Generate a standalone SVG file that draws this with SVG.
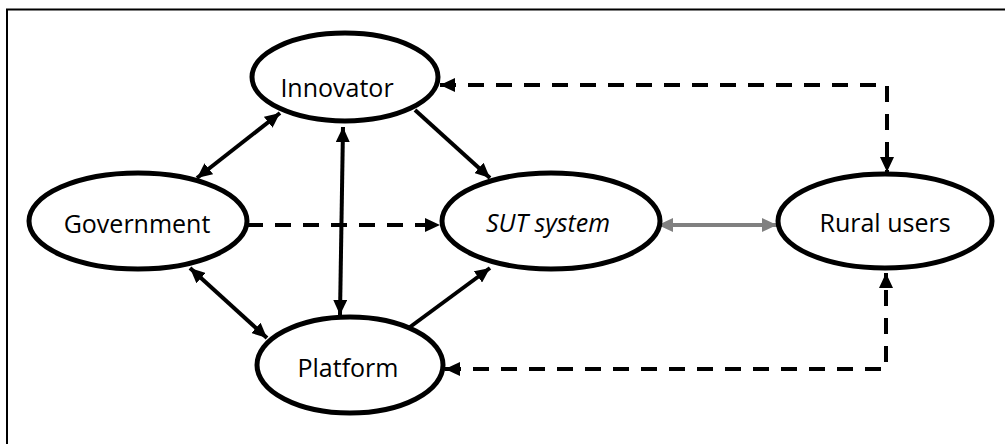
<svg xmlns="http://www.w3.org/2000/svg" width="1005" height="444" viewBox="0 0 1005 444">
<style>
.node{fill:#fff;stroke:#000;stroke-width:5}
.lbl{font-family:"Open Sans","Noto Sans","Liberation Sans",sans-serif;font-size:25px;fill:#000;text-anchor:middle}
.solid{stroke:#000;stroke-width:4;fill:none}
.dash{stroke:#000;stroke-width:4;fill:none;stroke-dasharray:16 12}
.gray{stroke:#808080;stroke-width:4;fill:none}
</style>
<defs>
<marker id="ah" markerUnits="userSpaceOnUse" markerWidth="16" markerHeight="14" refX="15" refY="7" orient="auto-start-reverse">
<path d="M0,0 L15,7 L0,14 z" fill="#000"/>
</marker>
<marker id="ahg" markerUnits="userSpaceOnUse" markerWidth="16" markerHeight="14" refX="15" refY="7" orient="auto-start-reverse">
<path d="M0,0 L15,7 L0,14 z" fill="#808080"/>
</marker>
</defs>
<rect width="1005" height="444" fill="#fff"/>
<g id="frame">
<path d="M7,444 L7,9.5 L1005,9.5" fill="none" stroke="#000" stroke-width="2"/>
</g>
<g id="connectors">
<line class="solid" x1="197" y1="178" x2="280" y2="113" marker-start="url(#ah)" marker-end="url(#ah)"/>
<line class="solid" x1="343" y1="127" x2="340" y2="315" marker-start="url(#ah)" marker-end="url(#ah)"/>
<line class="solid" x1="415" y1="110" x2="490" y2="178" marker-end="url(#ah)"/>
<line class="solid" x1="190" y1="268" x2="267" y2="338" marker-start="url(#ah)" marker-end="url(#ah)"/>
<line class="solid" x1="410" y1="327" x2="490" y2="268" marker-end="url(#ah)"/>
<line class="dash" x1="247" y1="225" x2="440" y2="225" marker-end="url(#ah)"/>
<line class="gray" x1="658" y1="225" x2="777" y2="225" marker-start="url(#ahg)" marker-end="url(#ahg)"/>
<polyline class="dash" points="440,85 887,85 887,172" marker-start="url(#ah)" marker-end="url(#ah)"/>
<polyline class="dash" points="445,369 886,369 886,273" marker-start="url(#ah)" marker-end="url(#ah)"/>
</g>
<g id="innovator">
<ellipse class="node" cx="345" cy="77" rx="93" ry="44"/>
<text class="lbl" x="337" y="97">Innovator</text>
</g>
<g id="government">
<ellipse class="node" cx="138" cy="221" rx="109" ry="48"/>
<text class="lbl" x="137" y="233">Government</text>
</g>
<g id="sut">
<ellipse class="node" cx="551" cy="221" rx="109" ry="48"/>
<text class="lbl" x="548" y="232" font-style="italic">SUT system</text>
</g>
<g id="rural">
<ellipse class="node" cx="885" cy="221" rx="107" ry="47"/>
<text class="lbl" x="885" y="232">Rural users</text>
</g>
<g id="platform">
<ellipse class="node" cx="350" cy="365" rx="93" ry="48"/>
<text class="lbl" x="348" y="377">Platform</text>
</g>
</svg>
